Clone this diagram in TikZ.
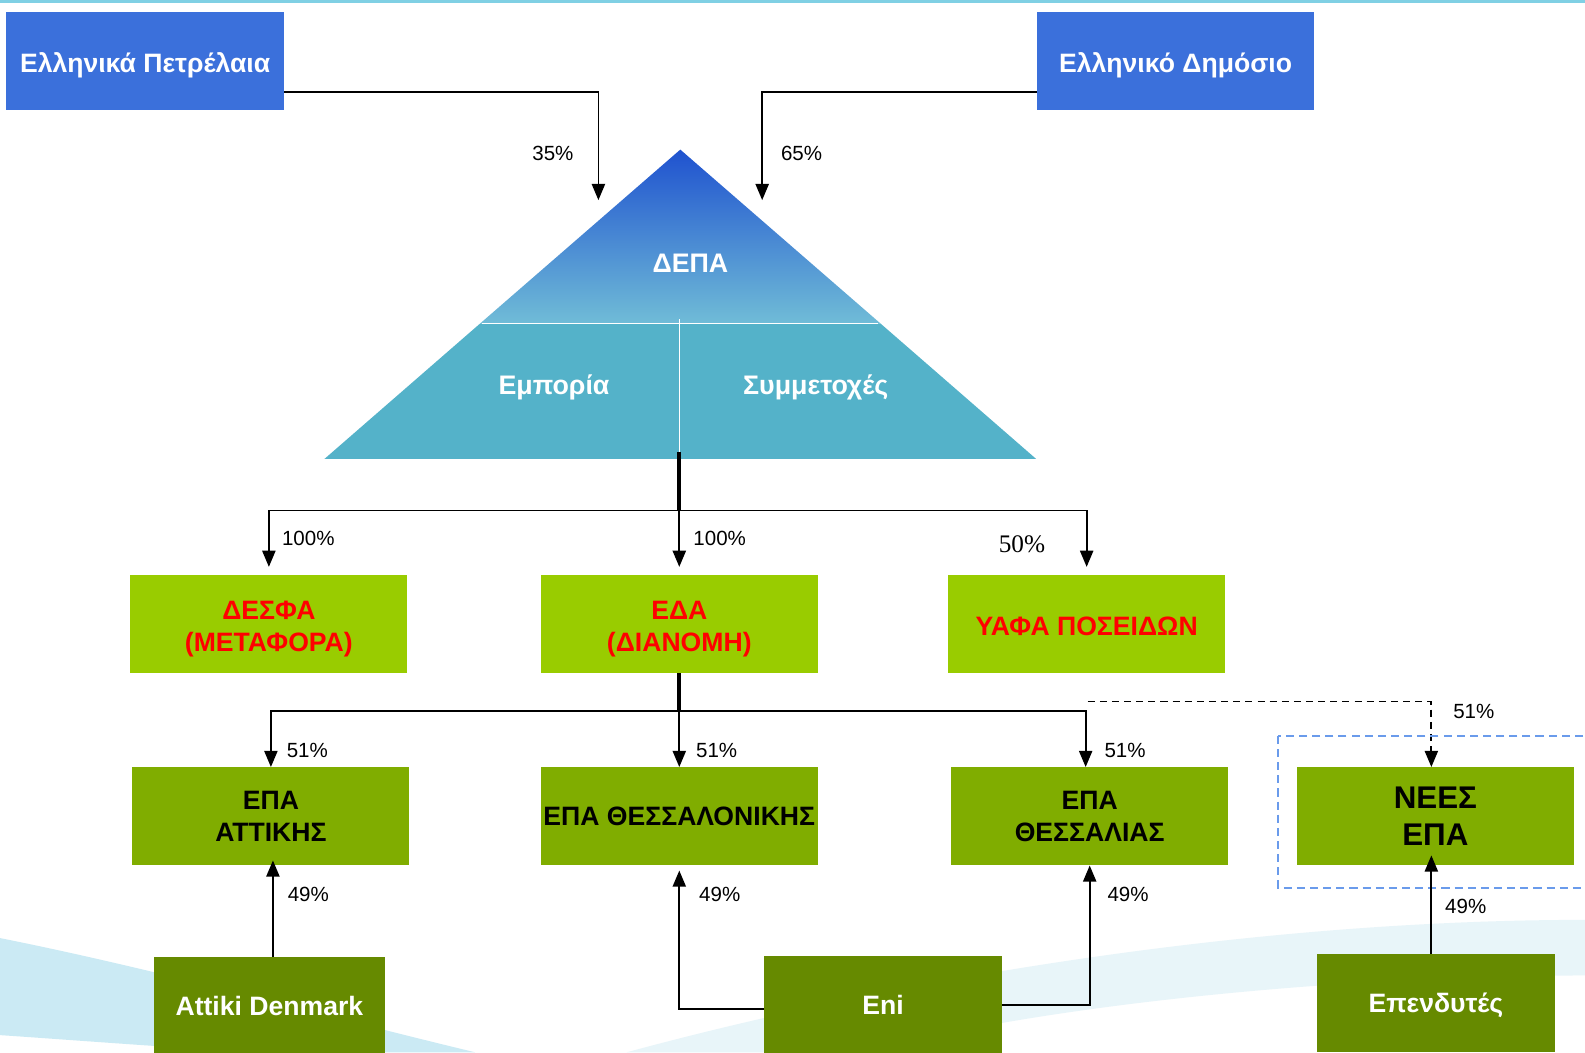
\documentclass[tikz,border=0pt]{standalone}
\usepackage{fontspec}
\setmainfont{Liberation Sans}
\newfontfamily\pctserif{Liberation Serif}
\usetikzlibrary{arrows.meta}
\definecolor{boxblue}{HTML}{3B70DB}
\definecolor{topline}{HTML}{80D0E4}
\definecolor{lime}{HTML}{99CC00}
\definecolor{olive}{HTML}{80AD00}
\definecolor{darkolive}{HTML}{668A00}
\definecolor{pyrtop}{HTML}{1F52CF}
\definecolor{pyrbot}{HTML}{70BCD7}
\definecolor{pyrlow}{HTML}{54B2C9}
\definecolor{redtxt}{HTML}{FF0000}
\definecolor{dashblue}{HTML}{6A9BEB}
\definecolor{swoosh}{HTML}{CBEAF4}
\definecolor{swoosh2}{HTML}{E8F5F9}
\begin{document}
\begin{tikzpicture}[x=1pt,y=-1pt,
  box/.style={rectangle, inner sep=0pt, minimum height=97pt, align=center,
    font=\bfseries\fontsize{26.3}{32}\selectfont},
  txtdown/.style={execute at begin node={\rule{0pt}{#1}}},
  bluebox/.style={box, fill=boxblue, text=white, minimum width=275pt},
  limebox/.style={box, fill=lime, text=redtxt, minimum width=274pt},
  olivebox/.style={box, fill=olive, text=black, minimum width=274pt},
  darkbox/.style={box, fill=darkolive, text=white, minimum width=235pt},
  pyrtext/.style={text=white, font=\bfseries\fontsize{26.5}{30}\selectfont},
  pct/.style={font=\fontsize{20.3}{24}\selectfont, inner sep=0pt},
  arr/.style={draw=black, line width=1.8pt, -{Triangle[length=16pt,width=13pt]}},
  stem/.style={draw=black, line width=4pt},
  blackdash/.style={dash pattern=on 7pt off 5pt},
  bluedash/.style={draw=dashblue, line width=2pt, dash pattern=on 8pt off 5pt}
]
\useasboundingbox (0,0) rectangle (1568,1041);
\fill[white] (0,0) rectangle (1568,1041);
% background swooshes
\fill[swoosh] (0,928) .. controls (160,960) and (320,1005) .. (470,1041) -- (250,1041) .. controls (150,1035) and (60,1028) .. (0,1024) -- cycle;
\fill[swoosh2] (620,1041) .. controls (900,965) and (1250,910) .. (1568,910) -- (1568,965) .. controls (1300,965) and (1000,1000) .. (860,1041) -- cycle;
\fill[topline] (0,0) rectangle (1568,3);

% pyramid
\shade[top color=pyrtop, bottom color=pyrbot] (673,148) -- (871,320) -- (475,320) -- cycle;
\fill[pyrlow] (475,320) -- (871,320) -- (1025,454) -- (321,454) -- cycle;
\draw[white, line width=1.5pt] (477,320) -- (869,320);
\draw[white, line width=1.5pt] (672,316) -- (672,452);
\node[pyrtext] (depa) at (683,260) {ΔΕΠΑ};
\node[pyrtext] (empo) at (548,383) {Εμπορία};
\node[pyrtext] (symm) at (807,383) {Συμμετοχές};

% top boxes
\node[bluebox, txtdown=28pt] (ep) at (143.5,60.5) {Ελληνικά Πετρέλαια};
\node[bluebox, txtdown=28pt, minimum width=274pt] (ed) at (1163,60.5) {Ελληνικό Δημόσιο};
\coordinate (t35) at (592,198);
\coordinate (t65) at (754,198);
\draw[arr] ([yshift=-30.5pt]ep.east) -| (t35);
\draw[arr] ([yshift=-30.5pt]ed.west) -| (t65);
\node[pct] (p35) at (547,152) {35\%};
\node[pct] (p65) at (793,152) {65\%};

% second row
\node[limebox, txtdown=60pt] (desfa) at (266,617.5) {ΔΕΣΦΑ\\(ΜΕΤΑΦΟΡΑ)};
\node[limebox, txtdown=60pt] (eda) at (672,617.5) {ΕΔΑ\\(ΔΙΑΝΟΜΗ)};
\node[limebox, txtdown=22pt] (yafa) at (1075,617.5) {ΥΑΦΑ ΠΟΣΕΙΔΩΝ};
\coordinate (s1) at (672,447);
\coordinate (hub1) at (672,505);
\draw[stem] (s1) -- (hub1);
\draw[arr, shorten >=8pt] (hub1) -| (desfa.north);
\draw[arr, shorten >=8pt] (hub1) -- (eda.north);
\draw[arr, shorten >=8pt] (hub1) -| (yafa.north);
\node[pct] (p100a) at (305,533) {100\%};
\node[pct] (p100b) at (712,533) {100\%};
\node[pct, font=\pctserif\fontsize{25}{30}\selectfont] (p50) at (1011,538) {50\%};

% third row
\node[olivebox] (attiki) at (268,807.5) {ΕΠΑ\\ΑΤΤΙΚΗΣ};
\node[olivebox] (thess) at (672,807.5) {ΕΠΑ ΘΕΣΣΑΛΟΝΙΚΗΣ};
\node[olivebox] (thessalia) at (1078,807.5) {ΕΠΑ\\ΘΕΣΣΑΛΙΑΣ};
\node[olivebox, font=\bfseries\fontsize{31}{37}\selectfont] (nees) at (1420,807.5) {ΝΕΕΣ\\ΕΠΑ};
\coordinate (hub2) at (672,703);
\draw[stem] (eda.south) -- (hub2);
\draw[arr] (hub2) -| (attiki.north);
\draw[arr] (hub2) -- (thess.north);
\draw[arr] (hub2) -| ([xshift=-4pt]thessalia.north);
\coordinate (dstart) at (1076,694);
\draw[arr, blackdash] (dstart) -| ([xshift=-4pt]nees.north);
\draw[bluedash] (1264,728) rectangle (1590,878);
\node[pct] (p51a) at (304,742) {51\%};
\node[pct] (p51b) at (709,742) {51\%};
\node[pct] (p51c) at (1113,742) {51\%};
\node[pct] (p51d) at (1458,704) {51\%};

% bottom row
\node[darkbox, minimum width=229pt] (attden) at (266.5,995) {Attiki Denmark};
\node[darkbox] (eni) at (873.5,994.5) {Eni};
\node[darkbox, txtdown=24pt] (epend) at (1420.5,992.5) {Επενδυτές};
\draw[arr, shorten >=-5pt] ([xshift=3.5pt]attden.north) -- ([xshift=3.5pt]attden.north |- attiki.south);
\draw[arr, shorten >=5pt] ([yshift=-3.5pt]eni.west) -| (thess.south);
\draw[arr] (eni.east) -| (thessalia.south);
\draw[arr, shorten >=-10pt] ([xshift=-4.5pt]epend.north) -- ([xshift=-4pt]nees.south);
\node[pct] (p49a) at (305,885) {49\%};
\node[pct] (p49b) at (712,885) {49\%};
\node[pct] (p49c) at (1116,885) {49\%};
\node[pct] (p49d) at (1450,897) {49\%};
\end{tikzpicture}
\end{document}
